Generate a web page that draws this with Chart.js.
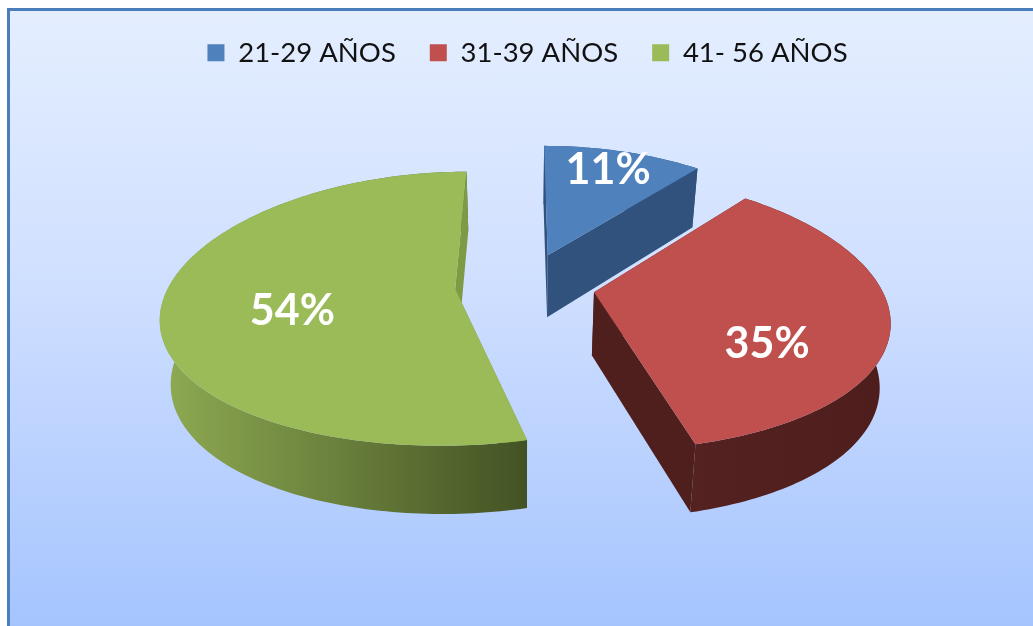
<!DOCTYPE html>
<html>
<head>
<meta charset="utf-8">
<title>Edades</title>
<script src="https://cdn.jsdelivr.net/npm/chart.js@4"></script>
<style>
  html, body { margin: 0; height: 100%; background: #fff; overflow: hidden; }
  #frame {
    position: absolute; left: 7px; top: 8px; right: 0; bottom: 0;
    border-top: 3px solid #4a7ebb; border-left: 3px solid #4a7ebb;
    background: linear-gradient(to bottom, #e4eeff 0%, #cfdfff 45%, #a5c4fe 100%);
  }
  canvas { position: absolute; left: 0; top: 0; }
</style>
</head>
<body>
<div id="frame"></div>
<canvas id="edadesChart" width="1033" height="626"></canvas>
<script>
const categories = ["21-29 AÑOS", "31-39 AÑOS", "41- 56 AÑOS"];
const shareValues = [11, 35, 54];

const topColors = ["#4f81bd", "#c0504d", "#9bbb59"];
const cutColors = ["#30527d", "#4f1f1d", "#7f9a45"];
const wallColors = [["#30527d", "#30527d"], ["#542220", "#4e1e1d"], ["#8ca851", "#435224"]];

// tilted view of the pie, fitted by eye
const view = { cx: 525, cy: 285, radius: 286, tilt: 0.465, focal: 2000, depth: 63, shrink: 0.03, spreadX: 1.3 };
const labelFrac = [0.7, 0.6, 0.56];
const labelShiftX = [5, -2, 0];
const labelShiftY = [-10, 34, 13];

function project(u, v, down) {
  const w = view.focal / (view.focal - v);
  const wx = 1 + (w - 1) * view.spreadX;
  const s = down ? 1 - view.shrink : 1;
  return {
    x: view.cx + u * wx * s,
    y: view.cy + view.tilt * v * w + (down ? view.depth * Math.sqrt(w) : 0),
  };
}

function arcPoints(a0, a1, r, ox, oy, down) {
  const pts = [];
  const steps = Math.ceil(Math.abs(a1 - a0) / 0.02);
  for (let i = 0; i <= steps; i++) {
    const a = a0 + (a1 - a0) * i / steps;
    pts.push(project(ox + r * Math.cos(a), oy + r * Math.sin(a), down));
  }
  return pts;
}

function fillPoly(ctx, pts, color) {
  ctx.beginPath();
  pts.forEach((p, i) => (i ? ctx.lineTo(p.x, p.y) : ctx.moveTo(p.x, p.y)));
  ctx.closePath();
  ctx.fillStyle = color;
  ctx.fill();
}

const pie3d = {
  id: "pie3d",
  beforeDatasetsDraw(chart) {
    const ctx = chart.ctx;
    const arcs = chart.getDatasetMeta(0).data;
    arcs.forEach((arc, i) => {
      const r = arc.outerRadius;
      const mid = (arc.startAngle + arc.endAngle) / 2;
      const ox = Math.cos(mid) * arc.options.offset;
      const oy = Math.sin(mid) * arc.options.offset;
      const top = arcPoints(arc.startAngle, arc.endAngle, r, ox, oy, false);
      const bottom = arcPoints(arc.startAngle, arc.endAngle, r, ox, oy, true);
      const tipTop = project(ox, oy, false);
      const tipBottom = project(ox, oy, true);

      // start cut faces away from the viewer, so it goes under the side
      fillPoly(ctx, [tipTop, top[0], bottom[0], tipBottom], cutColors[i]);

      // rounded side
      const minX = Math.min(...bottom.map(p => p.x));
      const maxX = Math.max(...bottom.map(p => p.x));
      const grad = ctx.createLinearGradient(minX, 0, maxX, 0);
      grad.addColorStop(0, wallColors[i][0]);
      grad.addColorStop(1, wallColors[i][1]);
      fillPoly(ctx, top.concat(bottom.slice().reverse()), grad);

      // end cut
      fillPoly(ctx, [tipTop, top[top.length - 1], bottom[bottom.length - 1], tipBottom], cutColors[i]);

      // top face
      fillPoly(ctx, [tipTop].concat(top), topColors[i]);

      // percent label
      const la = project(
        ox + r * labelFrac[i] * Math.cos(mid),
        oy + r * labelFrac[i] * Math.sin(mid),
        false
      );
      ctx.fillStyle = "#ffffff";
      ctx.font = "bold 43px Lato";
      ctx.textAlign = "center";
      ctx.textBaseline = "middle";
      ctx.fillText(shareValues[i] + "%", la.x + labelShiftX[i], la.y + labelShiftY[i]);
    });
    return false;
  },
};

const edadesCtx = document.getElementById("edadesChart").getContext("2d");
const edadesChart = new Chart(edadesCtx, {
  type: "pie",
  data: {
    labels: categories,
    datasets: [
      {
        data: shareValues,
        backgroundColor: topColors,
        borderWidth: 0,
        offset: 70,
      },
    ],
  },
  options: {
    responsive: false,
    animation: false,
    radius: view.radius,
    layout: { padding: { left: 22, top: 5 } },
    plugins: {
      tooltip: { enabled: false },
      legend: {
        position: "top",
        labels: {
          boxWidth: 17,
          boxHeight: 17,
          padding: 34,
          color: "#111111",
          font: { family: "Lato", size: 27.5 },
        },
      },
    },
  },
  plugins: [pie3d],
});
</script>
</body>
</html>
